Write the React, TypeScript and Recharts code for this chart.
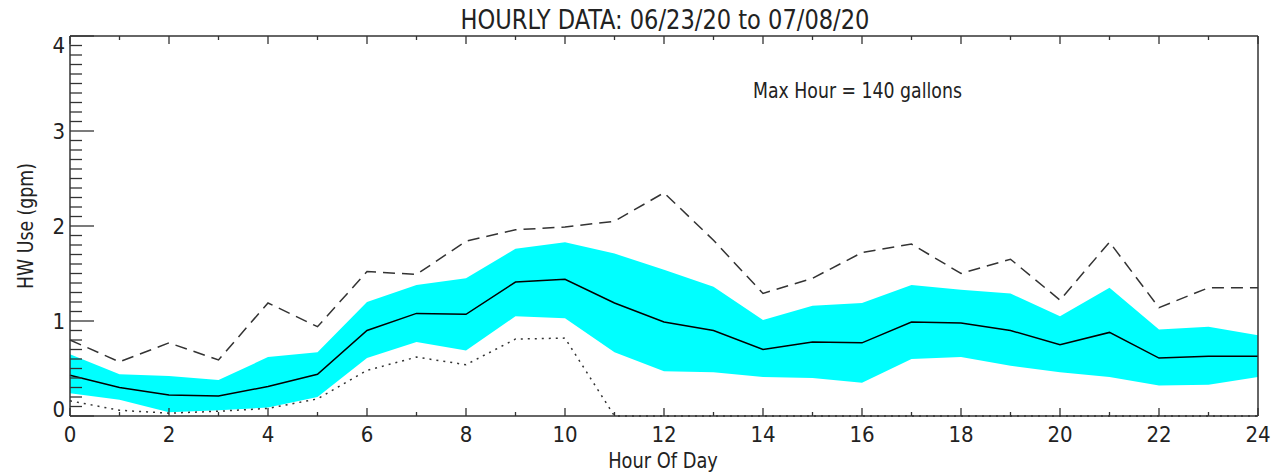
import React from 'react';
import { ComposedChart, Area, Line, XAxis, YAxis } from 'recharts';

const hours = [0, 1, 2, 3, 4, 5, 6, 7, 8, 9, 10, 11, 12, 13, 14, 15, 16, 17, 18, 19, 20, 21, 22, 23, 24];
const meanUse = [0.43, 0.30, 0.22, 0.21, 0.31, 0.44, 0.90, 1.08, 1.07, 1.41, 1.44, 1.19, 0.99, 0.90, 0.70, 0.78, 0.77, 0.99, 0.98, 0.90, 0.75, 0.88, 0.61, 0.63, 0.63];
const upperBand = [0.65, 0.44, 0.42, 0.38, 0.62, 0.67, 1.20, 1.38, 1.45, 1.76, 1.83, 1.71, 1.54, 1.36, 1.01, 1.16, 1.19, 1.38, 1.33, 1.29, 1.05, 1.35, 0.91, 0.94, 0.85];
const lowerBand = [0.24, 0.17, 0.04, 0.06, 0.09, 0.20, 0.61, 0.78, 0.69, 1.05, 1.03, 0.67, 0.47, 0.46, 0.41, 0.40, 0.35, 0.60, 0.62, 0.53, 0.46, 0.41, 0.32, 0.33, 0.41];
const maxUse = [0.80, 0.57, 0.77, 0.59, 1.19, 0.94, 1.52, 1.49, 1.84, 1.96, 1.99, 2.05, 2.35, 1.85, 1.29, 1.45, 1.72, 1.81, 1.50, 1.65, 1.22, 1.83, 1.14, 1.35, 1.35];
const minUse = [0.16, 0.06, 0.03, 0.05, 0.08, 0.18, 0.48, 0.62, 0.54, 0.81, 0.82, 0, 0, 0, 0, 0, 0, 0, 0, 0, 0, 0, 0, 0, 0];

const yMajorTicks = [0, 1, 2, 3, 4];
const yTicks: number[] = [];
yMajorTicks.slice(0, -1).forEach((v) => {
  for (let i = 0; i < 10; i++) yTicks.push(Math.round((v + i / 10) * 10) / 10);
});
yTicks.push(4);

const data = hours.map((h, i) => ({
  hour: h,
  band: [lowerBand[i], upperBand[i]],
  mean: meanUse[i],
  max: maxUse[i],
  min: minUse[i],
}));

const FONT = "'DejaVu Sans Condensed', 'Liberation Sans', sans-serif";
const INK = '#222';
const AXIS = '#333';

const isMajor = (v: number) => Math.abs(v - Math.round(v)) < 1e-6;

const BottomTick = ({ x, y, payload }: any) => {
  const v = payload.value;
  const major = v % 2 === 0;
  return (
    <g>
      <line x1={x} x2={x} y1={y} y2={y - (major ? 8 : 4)} stroke={AXIS} strokeWidth={1.3} />
      {major && (
        <text x={x} y={y + 26} textAnchor="middle" fill={INK} style={{ fontFamily: FONT, fontSize: 22 }}>
          {v}
        </text>
      )}
    </g>
  );
};

const TopTick = ({ x, y, payload }: any) => {
  const major = payload.value % 2 === 0;
  return <line x1={x} x2={x} y1={y} y2={y + (major ? 8 : 4)} stroke={AXIS} strokeWidth={1.3} />;
};

const LeftTick = ({ x, y, payload }: any) => {
  const v = payload.value;
  const major = isMajor(v);
  const ly = Math.min(Math.max(y, 45), 409);
  return (
    <g>
      <line x1={x} x2={x + (major ? 24 : 12)} y1={y} y2={y} stroke={AXIS} strokeWidth={1.3} />
      {major && (
        <text x={x - 5} y={ly + 8} textAnchor="end" fill={INK} style={{ fontFamily: FONT, fontSize: 22 }}>
          {Math.round(v)}
        </text>
      )}
    </g>
  );
};

const RightTick = ({ x, y, payload }: any) => {
  const major = isMajor(payload.value);
  return <line x1={x} x2={x - (major ? 24 : 12)} y1={y} y2={y} stroke={AXIS} strokeWidth={1.3} />;
};

const textStyle: React.CSSProperties = {
  position: 'absolute',
  fontFamily: FONT,
  color: INK,
  whiteSpace: 'nowrap',
  lineHeight: 1,
};

export default function App() {
  return (
    <div style={{ position: 'absolute', left: 0, top: 0, width: 1279, height: 475, background: '#fff' }}>
      <ComposedChart width={1279} height={475} data={data} margin={{ top: 0, right: 0, bottom: 0, left: 0 }}>
        <XAxis
          xAxisId="bottom"
          dataKey="hour"
          type="number"
          domain={[0, 24]}
          ticks={hours}
          interval={0}
          height={59}
          tickSize={0}
          tickMargin={0}
          tickLine={false}
          axisLine={{ stroke: AXIS, strokeWidth: 1.5 }}
          tick={<BottomTick />}
        />
        <XAxis
          xAxisId="top"
          orientation="top"
          dataKey="hour"
          type="number"
          domain={[0, 24]}
          ticks={hours}
          interval={0}
          height={36}
          tickSize={0}
          tickMargin={0}
          tickLine={false}
          axisLine={{ stroke: AXIS, strokeWidth: 1.5 }}
          tick={<TopTick />}
        />
        <YAxis
          yAxisId="left"
          type="number"
          domain={[0, 4]}
          ticks={yTicks}
          interval={0}
          width={70}
          tickSize={0}
          tickMargin={0}
          tickLine={false}
          axisLine={{ stroke: AXIS, strokeWidth: 1.5 }}
          tick={<LeftTick />}
        />
        <YAxis
          yAxisId="right"
          orientation="right"
          type="number"
          domain={[0, 4]}
          ticks={yTicks}
          interval={0}
          width={21}
          tickSize={0}
          tickMargin={0}
          tickLine={false}
          axisLine={{ stroke: AXIS, strokeWidth: 1.5 }}
          tick={<RightTick />}
        />
        <Area
          xAxisId="bottom"
          yAxisId="left"
          type="linear"
          dataKey="band"
          fill="#00ffff"
          fillOpacity={1}
          stroke="none"
          isAnimationActive={false}
        />
        <Line xAxisId="bottom" yAxisId="left" type="linear" dataKey="max" stroke="#333" strokeWidth={1.5} strokeDasharray="12 7" dot={false} isAnimationActive={false} />
        <Line xAxisId="bottom" yAxisId="left" type="linear" dataKey="min" stroke="#333" strokeWidth={1.5} strokeDasharray="2 5" dot={false} isAnimationActive={false} />
        <Line xAxisId="bottom" yAxisId="left" type="linear" dataKey="mean" stroke="#000" strokeWidth={1.5} dot={false} isAnimationActive={false} />
      </ComposedChart>
      <div
        style={{
          ...textStyle,
          left: 665,
          top: 7,
          fontSize: 26,
          transform: 'translateX(-50%) scaleX(0.965)',
        }}
      >
        HOURLY DATA: 06/23/20 to 07/08/20
      </div>
      <div style={{ ...textStyle, left: 753, top: 80, fontSize: 22, transform: 'scaleX(0.875)', transformOrigin: 'left top' }}>
        Max Hour = 140 gallons
      </div>
      <div style={{ ...textStyle, left: 663, top: 450, fontSize: 22, transform: 'translateX(-50%) scaleX(0.9)' }}>
        Hour Of Day
      </div>
      <div
        style={{
          ...textStyle,
          left: 26,
          top: 226,
          fontSize: 22,
          transform: 'translate(-50%, -50%) rotate(-90deg) scaleX(0.875)',
        }}
      >
        HW Use (gpm)
      </div>
    </div>
  );
}
